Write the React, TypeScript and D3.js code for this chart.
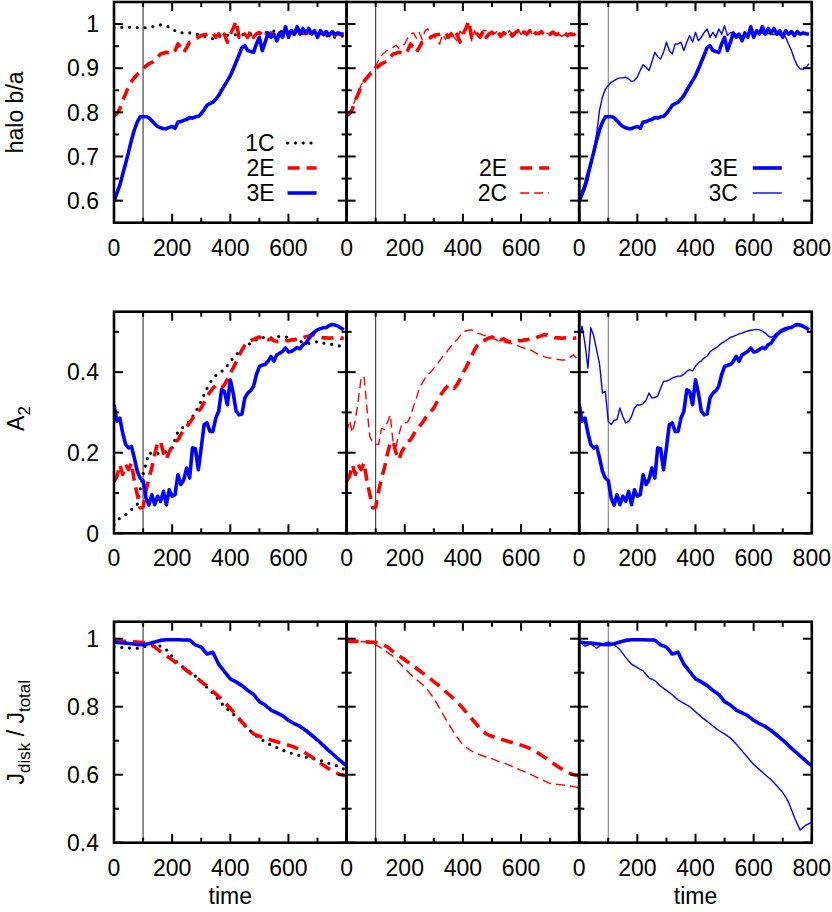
import React from 'react';
import * as d3 from 'd3';

// sampling grids (simulation time)
const time10 = d3.range(0, 800, 10);
const time20 = d3.range(0, 801, 20);

// ---- halo b/a ----
const haloBA1C = [
  0.992, 0.993, 0.992, 0.993, 0.992, 0.991, 0.993, 0.995, 0.998, 0.996,
  0.989, 0.981, 0.98, 0.98, 0.978, 0.974, 0.97, 0.967, 0.972, 0.975,
  0.974, 0.976, 0.977, 0.975, 0.977, 0.979, 0.98, 0.983, 0.985, 0.983,
  0.981, 0.986, 0.988, 0.985, 0.982, 0.979, 0.976, 0.972, 0.97, 0.973, 0.972,
];
const haloBA2E = [
  0.793, 0.797, 0.808, 0.827, 0.842, 0.859, 0.87, 0.878, 0.886, 0.893,
  0.898, 0.905, 0.91, 0.913, 0.917, 0.925, 0.932, 0.934, 0.936, 0.935,
  0.932, 0.94, 0.955, 0.947, 0.936, 0.947, 0.959, 0.962, 0.966, 0.97,
  0.974, 0.976, 0.977, 0.979, 0.981, 0.97, 0.978, 0.966, 0.977, 0.959,
  0.977, 0.99, 1.007, 0.97, 0.981, 0.977, 0.97, 0.985, 0.97, 0.978,
  0.981, 0.975, 0.983, 0.972, 0.98, 0.976, 0.984, 0.973, 0.98, 0.985,
  0.975, 0.982, 0.977, 0.985, 0.972, 0.98, 0.978, 0.983, 0.975, 0.98,
  0.977, 0.982, 0.976, 0.978, 0.975, 0.98, 0.974, 0.978, 0.976, 0.977,
];
const haloBA2C = [
  0.793, 0.797, 0.81, 0.83, 0.845, 0.862, 0.873, 0.882, 0.89, 0.898,
  0.905, 0.918, 0.929, 0.935, 0.94, 0.944, 0.947, 0.952, 0.945, 0.95,
  0.955, 0.968, 0.977, 0.98, 0.968, 0.981, 0.965, 0.985, 0.989, 0.97,
  0.974, 0.962, 0.955, 0.977, 0.966, 0.975, 0.981, 0.97, 0.962, 0.984,
  0.977, 0.99, 0.998, 0.962, 0.985, 0.972, 0.977, 0.986, 0.985, 0.98,
  0.984, 0.978, 0.987, 0.976, 0.983, 0.975, 0.985, 0.978, 0.982, 0.988,
  0.976, 0.984, 0.979, 0.986, 0.974, 0.98, 0.977, 0.982, 0.975, 0.979,
  0.976, 0.98, 0.974, 0.977, 0.972, 0.976, 0.974, 0.978, 0.975, 0.977,
];
const haloBA3E = [
  0.598, 0.617, 0.635, 0.66, 0.684, 0.71, 0.737, 0.76, 0.778, 0.79,
  0.79, 0.79, 0.788, 0.781, 0.774, 0.768, 0.765, 0.763, 0.763, 0.766,
  0.768, 0.764, 0.778, 0.779, 0.782, 0.784, 0.788, 0.787, 0.79, 0.791,
  0.797, 0.806, 0.816, 0.82, 0.823, 0.83, 0.838, 0.85, 0.861, 0.872,
  0.883, 0.898, 0.914, 0.93, 0.947, 0.951, 0.94, 0.938, 0.936, 0.955,
  0.97, 0.94, 0.959, 0.98, 0.97, 0.977, 0.962, 0.98, 0.97, 0.994,
  0.97, 0.985, 0.977, 0.994, 0.977, 0.99, 0.98, 0.99, 0.977, 0.985,
  0.97, 0.985, 0.977, 0.983, 0.974, 0.983, 0.977, 0.98, 0.978, 0.977,
];
const haloBA3C = [
  0.598, 0.61, 0.625, 0.645, 0.677, 0.715, 0.752, 0.805, 0.835, 0.853,
  0.861, 0.868, 0.872, 0.876, 0.878, 0.878, 0.88, 0.876, 0.87, 0.872,
  0.88, 0.895, 0.908, 0.902, 0.895, 0.914, 0.936, 0.926, 0.921, 0.936,
  0.959, 0.94, 0.932, 0.955, 0.955, 0.959, 0.94, 0.959, 0.974, 0.959,
  0.981, 0.962, 0.97, 0.981, 0.989, 0.97, 0.981, 0.97, 0.989, 0.977,
  0.996, 0.974, 0.981, 0.977, 0.977, 0.975, 0.971, 0.978, 0.977, 0.98,
  0.978, 0.982, 0.977, 0.98, 0.976, 0.979, 0.977, 0.976, 0.978, 0.975,
  0.977, 0.97, 0.955, 0.94, 0.921, 0.906, 0.898, 0.898, 0.902, 0.91,
];

// ---- A2 ----
const a2_1C = [
  0.022, 0.038, 0.046, 0.059, 0.071, 0.146, 0.2, 0.195, 0.2, 0.203,
  0.212, 0.253, 0.265, 0.278, 0.3, 0.328, 0.36, 0.385, 0.398, 0.406,
  0.427, 0.443, 0.456, 0.468, 0.476, 0.485, 0.486, 0.485, 0.489, 0.487,
  0.487, 0.48, 0.476, 0.472, 0.472, 0.476, 0.472, 0.47, 0.468, 0.464, 0.46,
];
const a2_2E = [
  0.129, 0.141, 0.17, 0.146, 0.17, 0.158, 0.175, 0.129, 0.096, 0.063,
  0.065, 0.104, 0.137, 0.162, 0.195, 0.225, 0.228, 0.2, 0.183, 0.203,
  0.216, 0.228, 0.232, 0.245, 0.257, 0.265, 0.274, 0.285, 0.294, 0.302,
  0.311, 0.325, 0.34, 0.35, 0.36, 0.367, 0.367, 0.36, 0.369, 0.382,
  0.398, 0.41, 0.425, 0.44, 0.455, 0.467, 0.475, 0.478, 0.481, 0.485,
  0.487, 0.483, 0.486, 0.48, 0.483, 0.478, 0.476, 0.477, 0.476, 0.478,
  0.478, 0.48, 0.48, 0.483, 0.482, 0.485, 0.488, 0.49, 0.493, 0.492,
  0.489, 0.487, 0.485, 0.485, 0.484, 0.485, 0.486, 0.486, 0.484, 0.485,
];
const a2_2C = [
  0.25, 0.28, 0.25, 0.28, 0.33, 0.385, 0.39, 0.31, 0.24, 0.225,
  0.222, 0.22, 0.26, 0.258, 0.275, 0.294, 0.225, 0.215, 0.245, 0.272,
  0.274, 0.276, 0.29, 0.315, 0.335, 0.36, 0.372, 0.385, 0.395, 0.4,
  0.41, 0.418, 0.428, 0.438, 0.445, 0.456, 0.465, 0.475, 0.48, 0.49,
  0.5, 0.502, 0.504, 0.505, 0.5, 0.497, 0.495, 0.492, 0.49, 0.489,
  0.485, 0.482, 0.478, 0.476, 0.475, 0.473, 0.472, 0.47, 0.467, 0.465,
  0.462, 0.46, 0.458, 0.456, 0.452, 0.448, 0.444, 0.442, 0.438, 0.436,
  0.435, 0.433, 0.432, 0.431, 0.43, 0.43, 0.432, 0.438, 0.443, 0.435,
];
const a2_3E = [
  0.319, 0.278, 0.286, 0.249, 0.22, 0.212, 0.216, 0.187, 0.154, 0.137,
  0.131, 0.088, 0.07, 0.096, 0.071, 0.092, 0.079, 0.104, 0.071, 0.108,
  0.092, 0.096, 0.146, 0.121, 0.133, 0.162, 0.137, 0.212, 0.21, 0.158,
  0.212, 0.27, 0.274, 0.253, 0.253, 0.286, 0.303, 0.356, 0.352, 0.319,
  0.381, 0.348, 0.303, 0.294, 0.296, 0.336, 0.348, 0.354, 0.365, 0.394,
  0.414, 0.417, 0.419, 0.427, 0.439, 0.427, 0.443, 0.447, 0.452, 0.46,
  0.45, 0.451, 0.456, 0.461, 0.458, 0.468, 0.472, 0.483, 0.493, 0.5,
  0.505, 0.508, 0.51, 0.511, 0.516, 0.518, 0.517, 0.514, 0.51, 0.505,
];
const a2_3C = [
  0.48, 0.514, 0.47, 0.41, 0.51, 0.49, 0.455, 0.42, 0.348, 0.352,
  0.278, 0.27, 0.28, 0.282, 0.311, 0.29, 0.274, 0.278, 0.29, 0.311,
  0.319, 0.318, 0.322, 0.33, 0.348, 0.336, 0.337, 0.34, 0.36, 0.377,
  0.378, 0.381, 0.385, 0.388, 0.39, 0.39, 0.395, 0.402, 0.406, 0.403,
  0.415, 0.423, 0.428, 0.435, 0.44, 0.45, 0.456, 0.46, 0.466, 0.472,
  0.476, 0.481, 0.486, 0.489, 0.492, 0.495, 0.497, 0.5, 0.502, 0.504,
  0.505, 0.506, 0.505, 0.502, 0.497, 0.49, 0.486, 0.49, 0.497, 0.498,
  0.5, 0.503, 0.507, 0.51, 0.514, 0.516, 0.514, 0.512, 0.509, 0.505,
];

// ---- J_disk / J_total ----
const jd1C = [
  0.977, 0.975, 0.973, 0.972, 0.972, 0.975, 0.982, 0.982, 0.978, 0.968,
  0.948, 0.928, 0.915, 0.903, 0.89, 0.874, 0.857, 0.84, 0.82, 0.8,
  0.785, 0.771, 0.754, 0.736, 0.72, 0.707, 0.697, 0.687, 0.68, 0.672,
  0.666, 0.66, 0.656, 0.652, 0.648, 0.645, 0.639, 0.633, 0.628, 0.623, 0.61,
];
const jd2E = [
  0.992, 0.992, 0.992, 0.991, 0.99, 0.989, 0.985, 0.976, 0.962, 0.95,
  0.938, 0.925, 0.913, 0.9, 0.888, 0.874, 0.86, 0.845, 0.83, 0.814,
  0.795, 0.775, 0.755, 0.735, 0.72, 0.713, 0.707, 0.702, 0.697, 0.692,
  0.687, 0.681, 0.673, 0.663, 0.652, 0.64, 0.628, 0.617, 0.607, 0.6, 0.597,
];
const jd2C = [
  0.992, 0.992, 0.992, 0.991, 0.99, 0.982, 0.972, 0.96, 0.948, 0.93,
  0.912, 0.895, 0.88, 0.866, 0.848, 0.825, 0.795, 0.765, 0.737, 0.71,
  0.688, 0.675, 0.665, 0.658, 0.652, 0.647, 0.64, 0.634, 0.628, 0.62,
  0.613, 0.606, 0.598, 0.59, 0.582, 0.574, 0.572, 0.57, 0.568, 0.565, 0.562,
];
const jd3E = [
  0.99, 0.988, 0.987, 0.985, 0.983, 0.982, 0.985, 0.99, 0.995, 0.997,
  0.997, 0.997, 0.996, 0.996, 0.982, 0.975, 0.955, 0.96, 0.925, 0.903,
  0.882, 0.873, 0.862, 0.848, 0.836, 0.815, 0.805, 0.79, 0.782, 0.774,
  0.76, 0.75, 0.742, 0.73, 0.716, 0.702, 0.686, 0.67, 0.655, 0.64, 0.626,
];
const jd3C = [
  0.992, 0.978, 0.985, 0.972, 0.984, 0.99, 0.982, 0.968, 0.945, 0.925,
  0.915, 0.905, 0.885, 0.877, 0.86, 0.848, 0.835, 0.82, 0.81, 0.8,
  0.785, 0.77, 0.757, 0.743, 0.73, 0.72, 0.708, 0.69, 0.67, 0.65,
  0.63, 0.615, 0.6, 0.585, 0.567, 0.548, 0.52, 0.475, 0.437, 0.452, 0.46,
];

const rows = [
  {
    label: 'halo',
    top: 2, bottom: 222.7,
    domain: [0.55, 1.05],
    major: [0.6, 0.7, 0.8, 0.9, 1],
    minor: [0.65, 0.75, 0.85, 0.95],
    data: { '1C': haloBA1C, '2E': haloBA2E, '2C': haloBA2C, '3E': haloBA3E, '3C': haloBA3C },
  },
  {
    label: 'a2',
    top: 311.7, bottom: 533.3,
    domain: [0, 0.55],
    major: [0, 0.2, 0.4],
    minor: [0.1, 0.3, 0.5],
    data: { '1C': a2_1C, '2E': a2_2E, '2C': a2_2C, '3E': a2_3E, '3C': a2_3C },
  },
  {
    label: 'j',
    top: 621.7, bottom: 842.7,
    domain: [0.4, 1.05],
    major: [0.4, 0.6, 0.8, 1],
    minor: [0.5, 0.7, 0.9],
    data: { '1C': jd1C, '2E': jd2E, '2C': jd2C, '3E': jd3E, '3C': jd3C },
  },
];

const colLeft = [114, 346.6, 579.2];
const colW = 232.6;
const colSeries = [['1C', '2E', '3E'], ['2E', '2C'], ['3E', '3C']];
const xMajor = [0, 200, 400, 600, 800];
const xMinor = [100, 300, 500, 700];
const xLabels = [[0, 200, 400, 600], [0, 200, 400, 600], [0, 200, 400, 600, 800]];

const lineStyle: Record<string, any> = {
  '1C': { stroke: '#000', width: 3.2, dash: '0 7.8', cap: 'round' },
  '2E': { stroke: '#ff0000', width: 3.6, dash: '12 7', cap: 'butt' },
  '2C': { stroke: '#ff0000', width: 1.4, dash: '9 5', cap: 'butt' },
  '3E': { stroke: '#0000ff', width: 3.6, dash: null, cap: 'butt' },
  '3C': { stroke: '#0000ff', width: 1.4, dash: null, cap: 'butt' },
};

const font = "'Liberation Sans', Arial, Helvetica, sans-serif";

export default function App() {
  const content: any[] = [];

  rows.forEach((row, ri) => {
    const y = d3.scaleLinear().domain(row.domain).range([row.bottom, row.top]);
    colLeft.forEach((left, ci) => {
      const x = d3.scaleLinear().domain([0, 800]).range([left, left + colW]);
      const id = `clip-${ri}-${ci}`;
      const right = left + colW;
      const line = d3.line<[number, number]>().x(d => x(d[0])).y(d => y(d[1]));

      content.push(
        <clipPath id={id} key={id}>
          <rect x={left} y={row.top} width={colW} height={row.bottom - row.top} />
        </clipPath>
      );

      // vertical marker at t = 100
      content.push(
        <line key={`v-${ri}-${ci}`} x1={x(100)} x2={x(100)} y1={row.top} y2={row.bottom}
          stroke={ci === 2 ? '#777' : '#222'} strokeWidth={1} />
      );

      const g: any[] = [];
      colSeries[ci].forEach(name => {
        const vals = (row.data as any)[name] as number[];
        const ts = vals.length === 41 ? time20 : time10;
        const pts = vals.map((v, i) => [ts[i], v] as [number, number]);
        const s = lineStyle[name];
        g.push(
          <path key={name} d={line(pts) || ''} fill="none" stroke={s.stroke} strokeWidth={s.width}
            strokeDasharray={s.dash || undefined} strokeLinecap={s.cap} strokeLinejoin="round" />
        );
      });
      content.push(<g key={`s-${ri}-${ci}`} clipPath={`url(#${id})`}>{g}</g>);

      // ticks
      const tk: any[] = [];
      const tick = (v: number, len: number, k: string) => {
        const py = y(v);
        tk.push(<line key={`yl${k}`} x1={left} x2={left + len} y1={py} y2={py} />);
        tk.push(<line key={`yr${k}`} x1={right} x2={right - len} y1={py} y2={py} />);
      };
      row.major.forEach((v, i) => tick(v, 9, `M${i}`));
      row.minor.forEach((v, i) => tick(v, 5, `m${i}`));
      const xtick = (v: number, len: number, k: string) => {
        const px = x(v);
        tk.push(<line key={`xb${k}`} x1={px} x2={px} y1={row.bottom} y2={row.bottom - len} />);
        tk.push(<line key={`xt${k}`} x1={px} x2={px} y1={row.top} y2={row.top + len} />);
      };
      xMajor.forEach((v, i) => xtick(v, 9, `M${i}`));
      xMinor.forEach((v, i) => xtick(v, 5, `m${i}`));
      content.push(<g key={`t-${ri}-${ci}`} stroke="#000" strokeWidth={2}>{tk}</g>);

      // frame
      content.push(
        <rect key={`f-${ri}-${ci}`} x={left} y={row.top} width={colW} height={row.bottom - row.top}
          fill="none" stroke="#000" strokeWidth={2.6} />
      );

      // x tick labels
      xLabels[ci].forEach(v => {
        content.push(
          <text key={`xl-${ri}-${ci}-${v}`} x={x(v)} y={row.bottom + 33} textAnchor="middle"
            fontSize={23} fontFamily={font}>{v}</text>
        );
      });

      // y tick labels on left column
      if (ci === 0) {
        row.major.forEach(v => {
          content.push(
            <text key={`yl-${ri}-${v}`} x={left - 15} y={y(v)} dy="0.36em" textAnchor="end"
              fontSize={23} fontFamily={font}>{String(+v.toFixed(1))}</text>
          );
        });
      }

      // legends in top row
      if (ri === 0) {
        const names = colSeries[ci];
        const rowsY = names.length === 3 ? [141, 166, 191] : [166, 191];
        names.forEach((name, k) => {
          const ly = row.top + rowsY[k];
          const s = lineStyle[name];
          content.push(
            <text key={`lg-${ci}-${name}`} x={right - (ci === 2 ? 74 : 72)} y={ly} dy="0.36em"
              textAnchor="end" fontSize={23} fontFamily={font}>{name}</text>
          );
          content.push(
            <line key={`ls-${ci}-${name}`} x1={right - 59} x2={right - 30} y1={ly} y2={ly}
              stroke={s.stroke} strokeWidth={s.width} strokeDasharray={s.dash || undefined}
              strokeLinecap={s.cap} />
          );
        });
      }
    });
  });

  const mid = (r: typeof rows[number]) => (r.top + r.bottom) / 2;

  return (
    <svg width={832} height={912} style={{ position: 'absolute', left: 0, top: 0, background: '#fff' }}>
      <rect x={0} y={0} width={832} height={912} fill="#fff" />
      {content}
      <text transform={`translate(23,${mid(rows[0])}) rotate(-90)`} textAnchor="middle"
        fontSize={23} fontFamily={font}>halo b/a</text>
      <text transform={`translate(24,${mid(rows[1]) - 4}) rotate(-90)`} textAnchor="middle"
        fontSize={23} fontFamily={font}>A<tspan dy={6} fontSize={17}>2</tspan></text>
      <text transform={`translate(24,${mid(rows[2])}) rotate(-90)`} textAnchor="middle"
        fontSize={23} fontFamily={font}>
        J<tspan dy={6} fontSize={17}>disk</tspan>
        <tspan dy={-6}> / J</tspan>
        <tspan dy={6} fontSize={17}>total</tspan>
      </text>
      <text x={colLeft[0] + colW / 2} y={904} textAnchor="middle" fontSize={23} fontFamily={font}>time</text>
      <text x={colLeft[2] + colW / 2} y={904} textAnchor="middle" fontSize={23} fontFamily={font}>time</text>
    </svg>
  );
}
